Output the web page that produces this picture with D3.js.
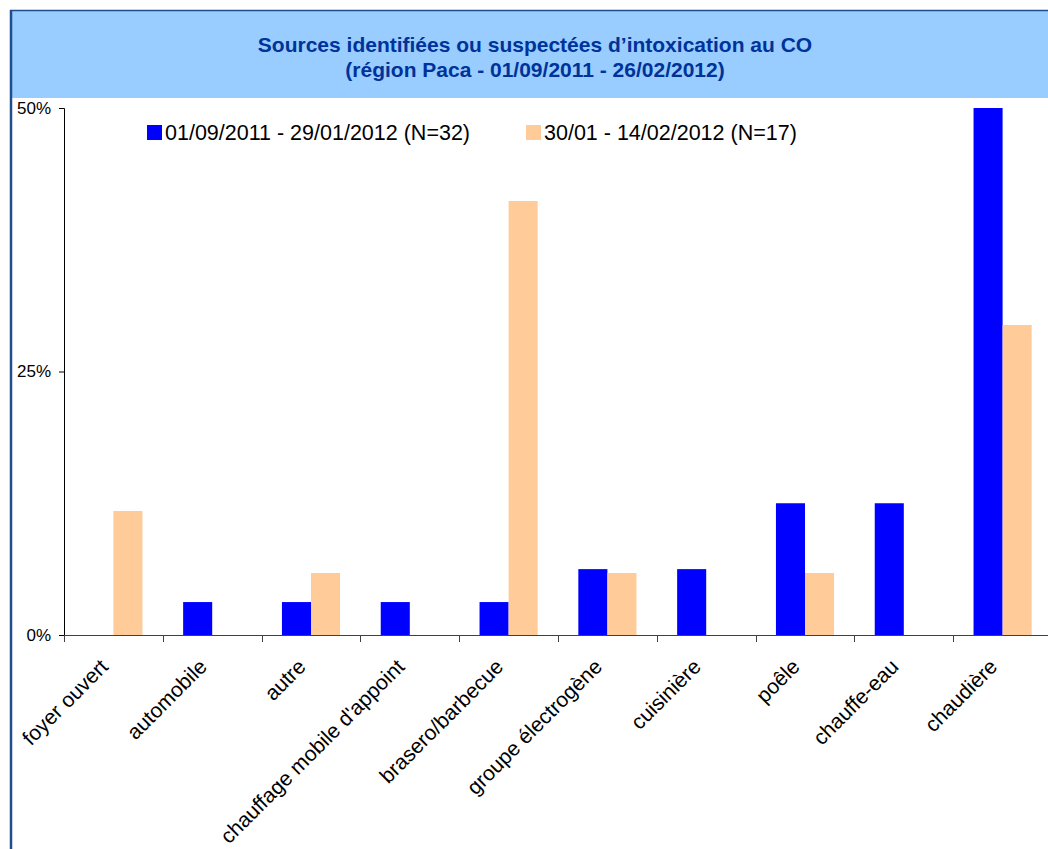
<!DOCTYPE html>
<html>
<head>
<meta charset="utf-8">
<script src="https://cdn.jsdelivr.net/npm/d3@7"></script>
<style>
  html, body { margin: 0; padding: 0; background: #fff; }
  svg { display: block; font-family: "Liberation Sans", Arial, sans-serif; }
</style>
</head>
<body>
<svg id="chart" width="1048" height="849"></svg>
<script>
// Sources d'intoxication au CO, région Paca
const categories = ["foyer ouvert", "automobile", "autre", "chauffage mobile d'appoint",
  "brasero/barbecue", "groupe électrogène", "cuisinière", "poêle", "chauffe-eau", "chaudière"];
const seriesNames = ["01/09/2011 - 29/01/2012 (N=32)", "30/01 - 14/02/2012 (N=17)"];
// share of cases per period (counts / N)
const period1 = [0, 1/32, 1/32, 1/32, 1/32, 2/32, 2/32, 4/32, 4/32, 16/32];
const period2 = [2/17, 0, 1/17, 0, 7/17, 1/17, 0, 1/17, 0, 5/17];
const yTicks = [0, 0.25, 0.5];
const titleLines = ["Sources identifiées ou suspectées d’intoxication au CO",
  "(région Paca - 01/09/2011 - 26/02/2012)"];
const colors = ["#0000FF", "#FFCC99"];

const svg = d3.select("#chart");

// frame and title band
svg.append("rect").attr("x", 10).attr("y", 11).attr("width", 1060).attr("height", 87)
  .attr("fill", "#99CCFF");
svg.append("line").attr("x1", 10).attr("x2", 1048).attr("y1", 10.5).attr("y2", 10.5)
  .attr("stroke", "#1F4E8C").attr("stroke-width", 1.5);
svg.append("line").attr("x1", 11).attr("x2", 11).attr("y1", 10).attr("y2", 849)
  .attr("stroke", "#1F4E8C").attr("stroke-width", 2.5);

svg.append("g").selectAll("text").data(titleLines).join("text")
  .attr("x", 535).attr("y", (d, i) => 52 + i * 25)
  .attr("text-anchor", "middle")
  .attr("font-size", 21).attr("font-weight", "bold").attr("fill", "#003399")
  .text(d => d);

// scales
const x0 = d3.scaleBand().domain(categories).range([64, 1052]);
const x1 = d3.scaleBand().domain([0, 1]).range([0, x0.bandwidth()]).paddingOuter(0.7);
const y = d3.scaleLinear().domain([0, 0.5]).range([635, 108]);

// bars
const rows = categories.map((c, i) => ({ cat: c, vals: [period1[i], period2[i]] }));
svg.append("g").selectAll("g").data(rows).join("g")
  .attr("transform", d => `translate(${x0(d.cat)},0)`)
  .selectAll("rect").data(d => d.vals.map((v, k) => ({ v, k })))
  .join("rect")
  .attr("x", d => x1(d.k))
  .attr("width", x1.bandwidth())
  .attr("y", d => y(d.v))
  .attr("height", d => y(0) - y(d.v))
  .attr("fill", d => colors[d.k]);

// y axis
const yAxis = svg.append("g").attr("transform", "translate(64,0)")
  .call(d3.axisLeft(y).tickValues(yTicks).tickFormat(d3.format(".0%")).tickSize(5).tickPadding(8));
yAxis.select(".domain").attr("stroke", "#000");
yAxis.selectAll("text").attr("font-size", 17).attr("fill", "#000")
  .attr("font-family", "Liberation Sans, Arial, sans-serif");

// x axis: ticks at category boundaries
const xAxisG = svg.append("g");
xAxisG.append("line").attr("x1", 64).attr("x2", 1048).attr("y1", y(0) + 0.5).attr("y2", y(0) + 0.5)
  .attr("stroke", "#404040");
xAxisG.selectAll("line.tick").data(categories).join("line").attr("class", "tick")
  .attr("x1", d => Math.round(x0(d)) + 0.5).attr("x2", d => Math.round(x0(d)) + 0.5)
  .attr("y1", y(0)).attr("y2", y(0) + 7).attr("stroke", "#404040");
xAxisG.selectAll("text").data(categories).join("text")
  .attr("text-anchor", "end")
  .attr("font-size", 21).attr("fill", "#000")
  .attr("transform", d => `translate(${x0(d) + x0.bandwidth() / 2 - 4},668) rotate(-45)`)
  .text(d => d);

// legend
const legendX = [147, 526];
const lg = svg.append("g").selectAll("g").data(seriesNames).join("g")
  .attr("transform", (d, i) => `translate(${legendX[i]},0)`);
lg.append("rect").attr("x", 0).attr("y", 125).attr("width", 15).attr("height", 15)
  .attr("fill", (d, i) => colors[i]);
lg.append("text").attr("x", 18).attr("y", 140).attr("font-size", 21.5).attr("fill", "#000")
  .text(d => d);
</script>
</body>
</html>
